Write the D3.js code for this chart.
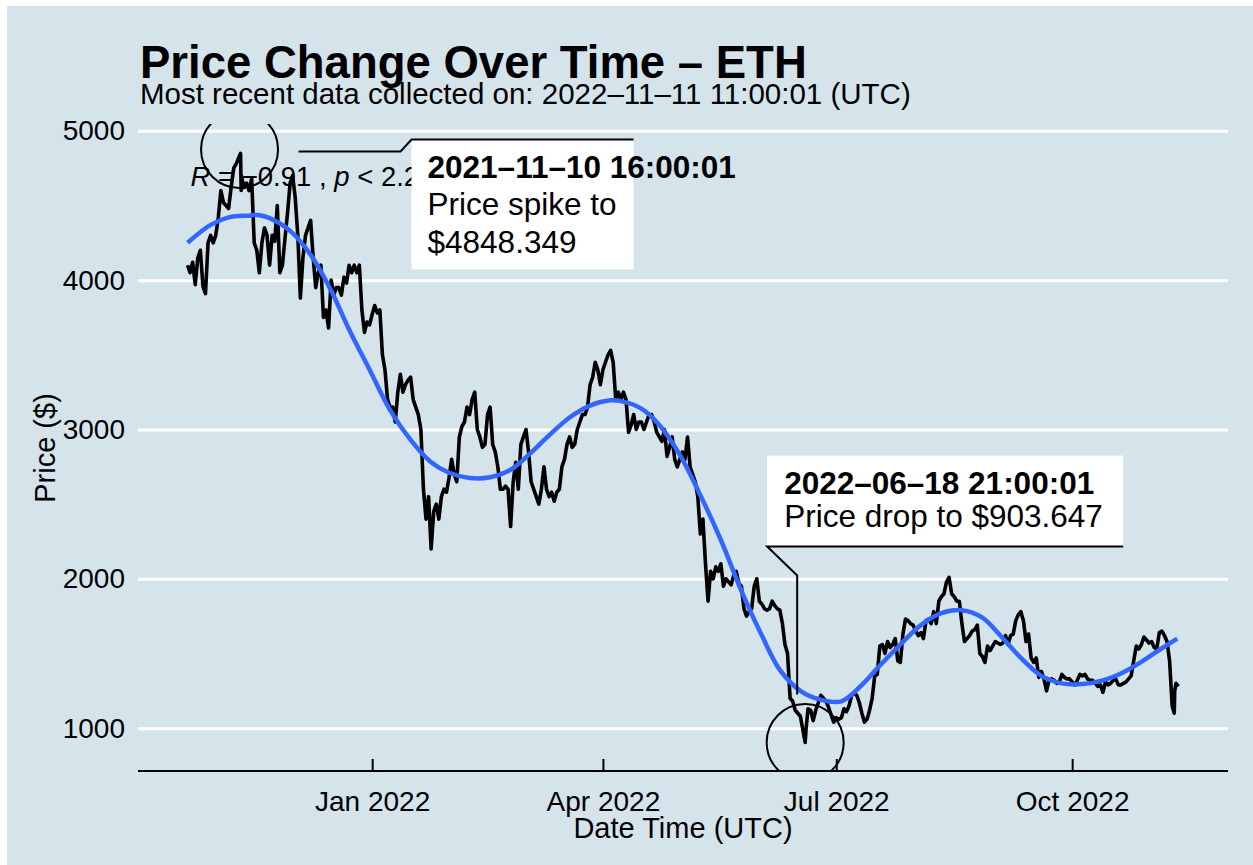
<!DOCTYPE html>
<html>
<head>
<meta charset="utf-8">
<script src="https://cdn.jsdelivr.net/npm/d3@7"></script>
<style>
  html, body { margin: 0; padding: 0; background: #ffffff; }
  svg { display: block; }
  text { font-family: "Liberation Sans", Arial, Helvetica, sans-serif; }
</style>
</head>
<body>
<svg id="chart" width="1253" height="865"></svg>
<script>
// ---------------- DATA ----------------
const chartTitle = "Price Change Over Time \u2013 ETH";
const chartSubtitle = "Most recent data collected on: 2022\u201311\u201311 11:00:01 (UTC)";
const xAxisTitle = "Date Time (UTC)";
const yAxisTitle = "Price ($)";
const corText = ["R", " = \u22120.91 , ", "p", " < 2.2e\u221216"];

const priceTimes = [
 "2021-10-21T00","2021-10-22T00","2021-10-23T00","2021-10-24T00","2021-10-25T00","2021-10-26T00","2021-10-27T00","2021-10-28T00","2021-10-29T00","2021-10-30T00","2021-10-31T00",
 "2021-11-01T00","2021-11-02T00","2021-11-03T00","2021-11-04T00","2021-11-05T00","2021-11-06T00","2021-11-07T00","2021-11-08T00","2021-11-09T00","2021-11-10T16","2021-11-10T22",
 "2021-11-11T00","2021-11-12T00","2021-11-13T00","2021-11-14T00","2021-11-15T00","2021-11-16T00","2021-11-17T00","2021-11-18T00","2021-11-19T00","2021-11-20T00",
 "2021-11-21T00","2021-11-22T00","2021-11-23T00","2021-11-24T00","2021-11-25T00","2021-11-26T00","2021-11-27T00","2021-11-28T00","2021-11-29T00","2021-11-30T00",
 "2021-12-01T00","2021-12-02T00","2021-12-03T00","2021-12-04T00","2021-12-05T00","2021-12-06T00","2021-12-07T00","2021-12-08T00","2021-12-09T00","2021-12-10T00",
 "2021-12-11T00","2021-12-12T00","2021-12-13T00","2021-12-14T00","2021-12-15T00","2021-12-16T00","2021-12-17T00","2021-12-18T00","2021-12-19T00","2021-12-20T00",
 "2021-12-21T00","2021-12-22T00","2021-12-23T00","2021-12-24T00","2021-12-25T00","2021-12-26T00","2021-12-27T00","2021-12-28T00","2021-12-29T00","2021-12-30T00","2021-12-31T00",
 "2022-01-01T00","2022-01-02T00","2022-01-03T00","2022-01-04T00","2022-01-05T00","2022-01-06T00","2022-01-07T00","2022-01-08T00","2022-01-09T00","2022-01-10T00",
 "2022-01-11T00","2022-01-12T00","2022-01-13T00","2022-01-14T00","2022-01-15T00","2022-01-16T00","2022-01-17T00","2022-01-18T00","2022-01-19T00","2022-01-20T00",
 "2022-01-21T00","2022-01-22T00","2022-01-23T00","2022-01-24T00","2022-01-25T00","2022-01-26T00","2022-01-27T00","2022-01-28T00","2022-01-29T00","2022-01-30T00","2022-01-31T00",
 "2022-02-01T00","2022-02-02T00","2022-02-03T00","2022-02-04T00","2022-02-05T00","2022-02-06T00","2022-02-07T00","2022-02-08T00","2022-02-09T00","2022-02-10T00",
 "2022-02-11T00","2022-02-12T00","2022-02-13T00","2022-02-14T00","2022-02-15T00","2022-02-16T00","2022-02-17T00","2022-02-18T00","2022-02-19T00","2022-02-20T00",
 "2022-02-21T00","2022-02-22T00","2022-02-23T00","2022-02-24T00","2022-02-25T00","2022-02-26T00","2022-02-27T00","2022-02-28T00",
 "2022-03-01T00","2022-03-02T00","2022-03-03T00","2022-03-04T00","2022-03-05T00","2022-03-06T00","2022-03-07T00","2022-03-08T00","2022-03-09T00","2022-03-10T00",
 "2022-03-11T00","2022-03-12T00","2022-03-13T00","2022-03-14T00","2022-03-15T00","2022-03-16T00","2022-03-17T00","2022-03-18T00","2022-03-19T00","2022-03-20T00",
 "2022-03-21T00","2022-03-22T00","2022-03-23T00","2022-03-24T00","2022-03-25T00","2022-03-26T00","2022-03-27T00","2022-03-28T00","2022-03-29T00","2022-03-30T00","2022-03-31T00",
 "2022-04-01T00","2022-04-02T00","2022-04-03T00","2022-04-04T00","2022-04-05T00","2022-04-06T00","2022-04-07T00","2022-04-08T00","2022-04-09T00","2022-04-10T00",
 "2022-04-11T00","2022-04-12T00","2022-04-13T00","2022-04-14T00","2022-04-15T00","2022-04-16T00","2022-04-17T00","2022-04-18T00","2022-04-19T00","2022-04-20T00",
 "2022-04-21T00","2022-04-22T00","2022-04-23T00","2022-04-24T00","2022-04-25T00","2022-04-26T00","2022-04-27T00","2022-04-28T00","2022-04-29T00","2022-04-30T00",
 "2022-05-01T00","2022-05-02T00","2022-05-03T00","2022-05-04T00","2022-05-05T00","2022-05-06T00","2022-05-07T00","2022-05-08T00","2022-05-09T00","2022-05-10T00",
 "2022-05-11T00","2022-05-12T00","2022-05-13T00","2022-05-14T00","2022-05-15T00","2022-05-16T00","2022-05-17T00","2022-05-18T00","2022-05-19T00","2022-05-20T00",
 "2022-05-21T00","2022-05-22T00","2022-05-23T00","2022-05-24T00","2022-05-25T00","2022-05-26T00","2022-05-27T00","2022-05-28T00","2022-05-29T00","2022-05-30T00","2022-05-31T00",
 "2022-06-01T00","2022-06-02T00","2022-06-03T00","2022-06-04T00","2022-06-05T00","2022-06-06T00","2022-06-07T00","2022-06-08T00","2022-06-09T00","2022-06-10T00",
 "2022-06-11T00","2022-06-12T00","2022-06-13T00","2022-06-14T00","2022-06-15T00","2022-06-16T00","2022-06-17T00","2022-06-18T21","2022-06-19T06","2022-06-20T00",
 "2022-06-21T00","2022-06-22T00","2022-06-23T00","2022-06-24T00","2022-06-25T00","2022-06-26T00","2022-06-27T00","2022-06-28T00","2022-06-29T00","2022-06-30T00",
 "2022-07-01T00","2022-07-02T00","2022-07-03T00","2022-07-04T00","2022-07-05T00","2022-07-06T00","2022-07-07T00","2022-07-08T00","2022-07-09T00","2022-07-10T00",
 "2022-07-11T00","2022-07-12T00","2022-07-13T00","2022-07-14T00","2022-07-15T00","2022-07-16T00","2022-07-17T00","2022-07-18T00","2022-07-19T00","2022-07-20T00",
 "2022-07-21T00","2022-07-22T00","2022-07-23T00","2022-07-24T00","2022-07-25T00","2022-07-26T00","2022-07-27T00","2022-07-28T00","2022-07-29T00","2022-07-30T00","2022-07-31T00",
 "2022-08-01T00","2022-08-02T00","2022-08-03T00","2022-08-04T00","2022-08-05T00","2022-08-06T00","2022-08-07T00","2022-08-08T00","2022-08-09T00","2022-08-10T00",
 "2022-08-11T00","2022-08-12T00","2022-08-13T00","2022-08-14T00","2022-08-15T00","2022-08-16T00","2022-08-17T00","2022-08-18T00","2022-08-19T00","2022-08-20T00",
 "2022-08-21T00","2022-08-22T00","2022-08-23T00","2022-08-24T00","2022-08-25T00","2022-08-26T00","2022-08-27T00","2022-08-28T00","2022-08-29T00","2022-08-30T00","2022-08-31T00",
 "2022-09-01T00","2022-09-02T00","2022-09-03T00","2022-09-04T00","2022-09-05T00","2022-09-06T00","2022-09-07T00","2022-09-08T00","2022-09-09T00","2022-09-10T00",
 "2022-09-11T00","2022-09-12T00","2022-09-13T00","2022-09-14T00","2022-09-15T00","2022-09-16T00","2022-09-17T00","2022-09-18T00","2022-09-19T00","2022-09-20T00",
 "2022-09-21T00","2022-09-22T00","2022-09-23T00","2022-09-24T00","2022-09-25T00","2022-09-26T00","2022-09-27T00","2022-09-28T00","2022-09-29T00","2022-09-30T00",
 "2022-10-01T00","2022-10-02T00","2022-10-03T00","2022-10-04T00","2022-10-05T00","2022-10-06T00","2022-10-07T00","2022-10-08T00","2022-10-09T00","2022-10-10T00",
 "2022-10-11T00","2022-10-12T00","2022-10-13T00","2022-10-14T00","2022-10-15T00","2022-10-16T00","2022-10-17T00","2022-10-18T00","2022-10-19T00","2022-10-20T00",
 "2022-10-21T00","2022-10-22T00","2022-10-23T00","2022-10-24T00","2022-10-25T00","2022-10-26T00","2022-10-27T00","2022-10-28T00","2022-10-29T00","2022-10-30T00","2022-10-31T00",
 "2022-11-01T00","2022-11-02T00","2022-11-03T00","2022-11-04T00","2022-11-05T00","2022-11-06T00","2022-11-07T00","2022-11-08T00","2022-11-09T00","2022-11-09T20",
 "2022-11-10T00","2022-11-10T12","2022-11-11T11"
];
const priceValues = [
 4100,4050,4120,3970,4150,4200,3960,3910,4250,4300,4250,
 4300,4420,4600,4520,4500,4480,4620,4750,4780,4848.349,4600,
 4700,4620,4650,4600,4680,4250,4200,4050,4250,4350,
 4300,4100,4300,4260,4500,4050,4100,4280,4450,4650,
 4700,4550,4300,3880,4150,4300,4350,4400,4150,3950,
 4050,4100,3750,3800,3680,4000,3900,3950,3950,3900,
 4020,3980,4100,4050,4100,4050,4100,3800,3650,3720,3700,
 3770,3830,3780,3800,3500,3400,3200,3150,3150,3050,
 3250,3370,3250,3300,3330,3350,3200,3150,3100,3000,
 2600,2400,2550,2200,2450,2500,2400,2550,2600,2580,2680,
 2800,2700,2650,2950,3020,3050,3150,3100,3200,3250,
 3000,2950,2880,2900,3100,3150,2900,2850,2750,2600,
 2600,2620,2600,2350,2650,2780,2600,2900,
 2950,3000,2850,2650,2600,2550,2500,2600,2750,2600,
 2550,2580,2520,2580,2600,2750,2800,2900,2950,2880,
 2900,3000,3050,3100,3100,3150,3300,3350,3450,3400,3300,
 3400,3450,3500,3530,3450,3200,3250,3200,3250,3200,
 2980,3030,3100,3000,3050,3050,3000,3050,3100,3100,
 3050,2980,2950,2920,3000,2820,2880,2950,2800,2750,
 2800,2850,2800,2950,2750,2700,2650,2550,2300,2400,
 2100,1850,2050,2000,2080,2050,2100,1950,2000,1980,
 1960,2020,2050,1970,1950,1800,1750,1780,1800,1950,2000,
 1850,1830,1800,1790,1800,1850,1820,1800,1790,1700,
 1560,1500,1200,1180,1120,1100,1080,903.647,1000,1130,
 1120,1050,1120,1170,1220,1200,1180,1140,1090,1040,
 1070,1060,1070,1130,1110,1150,1220,1230,1220,1170,
 1100,1040,1060,1120,1200,1350,1360,1550,1560,1500,
 1580,1540,1560,1600,1450,1440,1630,1730,1720,1700,1690,
 1650,1620,1640,1600,1720,1730,1700,1780,1700,1850,
 1880,1900,1980,2010,1900,1880,1850,1850,1700,1580,
 1600,1620,1650,1660,1690,1500,1480,1440,1550,1520,1550,
 1580,1570,1560,1570,1620,1560,1620,1630,1720,1760,
 1780,1720,1580,1630,1470,1440,1470,1340,1380,1330,
 1250,1320,1330,1320,1300,1310,1360,1340,1330,1330,
 1310,1290,1320,1360,1350,1360,1330,1320,1320,1300,
 1280,1290,1240,1310,1290,1300,1320,1330,1290,1290,
 1300,1310,1330,1350,1450,1550,1530,1560,1610,1590,1570,
 1580,1540,1530,1640,1650,1620,1580,1450,1150,1100,
 1250,1300,1280
];

// loess-style smooth trend
const smoothTimes = [
 "2021-10-21","2021-10-30","2021-11-06","2021-11-14","2021-11-18","2021-11-22","2021-11-30","2021-12-08","2021-12-16","2021-12-23","2021-12-31",
 "2022-01-08","2022-01-16","2022-01-24","2022-01-31","2022-02-08","2022-02-16","2022-02-24","2022-03-03","2022-03-11","2022-03-19","2022-03-27",
 "2022-04-04","2022-04-08","2022-04-16","2022-04-23","2022-05-01","2022-05-09","2022-05-17","2022-05-25","2022-06-02","2022-06-09","2022-06-17",
 "2022-06-25","2022-07-03","2022-07-11","2022-07-18","2022-07-26","2022-08-03","2022-08-11","2022-08-19","2022-08-27","2022-09-03","2022-09-11",
 "2022-09-19","2022-09-27","2022-10-05","2022-10-13","2022-10-21","2022-10-29","2022-11-05","2022-11-11"
];
const smoothValues = [
 4250,4370,4420,4432,4435,4415,4330,4170,3930,3670,3400,
 3130,2930,2780,2710,2675,2680,2730,2830,2960,3080,3160,
 3195,3190,3140,3030,2830,2560,2260,1920,1620,1390,1250,
 1190,1180,1290,1420,1560,1690,1770,1790,1740,1620,1470,
 1350,1300,1295,1320,1375,1455,1535,1600
];

const yTicks = [1000, 2000, 3000, 4000, 5000];
const xTickDates = ["2022-01-01", "2022-04-01", "2022-07-01", "2022-10-01"];

const peakTime = "2021-11-10T16:00:01";
const peakValue = 4848.349;
const peakLabel = ["2021\u201311\u201310 16:00:01", "Price spike to", "$4848.349"];
const dropTime = "2022-06-18T21:00:01";
const dropValue = 903.647;
const dropLabel = ["2022\u201306\u201318 21:00:01", "Price drop to $903.647"];

// ---------------- DRAW ----------------
const parse = s => new Date(s.length === 10 ? s + "T00:00:00Z" : (s.length === 13 ? s + ":00:00Z" : s + "Z"));
const price = priceTimes.map((t, i) => ({ t: parse(t), v: priceValues[i] }));
const smooth = smoothTimes.map((t, i) => ({ t: parse(t), v: smoothValues[i] }));

const svg = d3.select("#chart");
const W = 1253, H = 865;
const panel = { left: 138, right: 1228, top: 124, bottom: 772 };

svg.append("rect").attr("x", 7).attr("y", 6).attr("width", W - 7).attr("height", H - 6).attr("fill", "#d5e4eb");

const tExt = d3.extent(price, d => d.t);
const tPad = (tExt[1] - tExt[0]) * 0.05;
const vExt = d3.extent(price, d => d.v);
const vPad = (vExt[1] - vExt[0]) * 0.05;

const x = d3.scaleUtc().domain([new Date(+tExt[0] - tPad), new Date(+tExt[1] + tPad)]).range([panel.left, panel.right]);
const y = d3.scaleLinear().domain([vExt[0] - vPad, vExt[1] + vPad]).range([panel.bottom, panel.top]);

svg.append("defs").append("clipPath").attr("id", "panelClip")
  .append("rect").attr("x", panel.left).attr("y", panel.top)
  .attr("width", panel.right - panel.left).attr("height", panel.bottom - panel.top - 1);

// gridlines + y axis labels
const yAxis = d3.axisLeft(y).tickValues(yTicks).tickSize(-(panel.right - panel.left)).tickPadding(13).tickFormat(d3.format("d"));
const gy = svg.append("g").attr("transform", `translate(${panel.left},0)`).call(yAxis);
gy.select(".domain").remove();
gy.selectAll(".tick line").attr("stroke", "#ffffff").attr("stroke-width", 3);
gy.selectAll(".tick text").attr("font-size", 28).attr("fill", "#000").attr("font-family", "Liberation Sans, Arial, sans-serif");

// x axis
const xAxis = d3.axisBottom(x).tickValues(xTickDates.map(parse)).tickFormat(d3.utcFormat("%b %Y")).tickSize(-12).tickPadding(30);
const gx = svg.append("g").attr("transform", `translate(0,${panel.bottom - 1})`).call(xAxis);
gx.select(".domain").attr("stroke", "#000").attr("stroke-width", 2).attr("d", `M${panel.left},0H${panel.right}`);
gx.selectAll(".tick line").attr("stroke", "#000").attr("stroke-width", 2);
gx.selectAll(".tick text").attr("font-size", 28).attr("fill", "#000").attr("font-family", "Liberation Sans, Arial, sans-serif").attr("dy", "0.71em").attr("y", 20);

const plot = svg.append("g").attr("clip-path", "url(#panelClip)");

// price line
plot.append("path").datum(price)
  .attr("d", d3.line().x(d => x(d.t)).y(d => y(d.v)))
  .attr("fill", "none").attr("stroke", "#000").attr("stroke-width", 3.6).attr("stroke-linejoin", "round");

// smooth
plot.append("path").datum(smooth)
  .attr("d", d3.line().curve(d3.curveCatmullRom.alpha(0.5)).x(d => x(d.t)).y(d => y(d.v)))
  .attr("fill", "none").attr("stroke", "#3366FF").attr("stroke-width", 4.5);

// correlation text
const cx0 = x(parse("2021-10-21T00")) + 3;
const ct = svg.append("text").attr("x", cx0).attr("y", 186).attr("font-size", 27.5).attr("fill", "#000");
corText.forEach((s, i) => ct.append("tspan").text(s).attr("font-style", (i % 2 === 0) ? "italic" : "normal"));

// mark circles
const c1 = { x: x(parse(peakTime)), y: y(peakValue) };
const c2 = { x: x(parse(dropTime)), y: y(dropValue) };
const r = 38.5;
plot.append("circle").attr("cx", c1.x - 1).attr("cy", c1.y - 4).attr("r", r).attr("fill", "none").attr("stroke", "#000").attr("stroke-width", 2);
plot.append("circle").attr("cx", c2.x).attr("cy", c2.y).attr("r", r).attr("fill", "none").attr("stroke", "#000").attr("stroke-width", 2);

// label 1 (peak)
const b1 = { x0: c1.x + 171, x1: c1.x + 393, y0: c1.y - 14, y1: c1.y + 116 };
svg.append("rect").attr("x", b1.x0).attr("y", b1.y0).attr("width", b1.x1 - b1.x0).attr("height", b1.y1 - b1.y0).attr("fill", "#fff");
svg.append("path")
  .attr("d", `M${c1.x + 58},${c1.y - 2}L${c1.x + 160},${c1.y - 2}L${b1.x0},${b1.y0}L${b1.x1},${b1.y0}`)
  .attr("fill", "none").attr("stroke", "#000").attr("stroke-width", 2);
const l1 = svg.append("g").attr("font-size", 31.5).attr("fill", "#000");
l1.append("text").attr("x", b1.x0 + 16).attr("y", c1.y + 25).attr("font-weight", "bold").text(peakLabel[0]);
l1.append("text").attr("x", b1.x0 + 16).attr("y", c1.y + 62).text(peakLabel[1]);
l1.append("text").attr("x", b1.x0 + 16).attr("y", c1.y + 100).text(peakLabel[2]);

// label 2 (drop)
const b2 = { x0: c2.x - 38, x1: c2.x + 318, y0: c2.y - 287, y1: c2.y - 196 };
svg.append("rect").attr("x", b2.x0).attr("y", b2.y0).attr("width", b2.x1 - b2.x0).attr("height", b2.y1 - b2.y0).attr("fill", "#fff");
svg.append("path")
  .attr("d", `M${b2.x1},${b2.y1}L${b2.x0},${b2.y1}L${c2.x - 8},${b2.y1 + 29}L${c2.x - 8},${c2.y - 48}`)
  .attr("fill", "none").attr("stroke", "#000").attr("stroke-width", 2);
const l2 = svg.append("g").attr("font-size", 31.5).attr("fill", "#000");
l2.append("text").attr("x", b2.x0 + 17).attr("y", c2.y - 249).attr("font-weight", "bold").text(dropLabel[0]);
l2.append("text").attr("x", b2.x0 + 17).attr("y", c2.y - 216).text(dropLabel[1]);

// titles
svg.append("text").attr("x", 140).attr("y", 78).attr("font-size", 45.5).attr("font-weight", "bold").attr("fill", "#000").text(chartTitle);
svg.append("text").attr("x", 140).attr("y", 104).attr("font-size", 29.5).attr("fill", "#000").text(chartSubtitle);

// axis titles
svg.append("text").attr("x", (panel.left + panel.right) / 2).attr("y", 838).attr("text-anchor", "middle").attr("font-size", 29).attr("fill", "#000").text(xAxisTitle);
svg.append("text").attr("transform", `translate(55,${(panel.top + panel.bottom) / 2}) rotate(-90)`).attr("text-anchor", "middle").attr("font-size", 29).attr("fill", "#000").text(yAxisTitle);
</script>
</body>
</html>
